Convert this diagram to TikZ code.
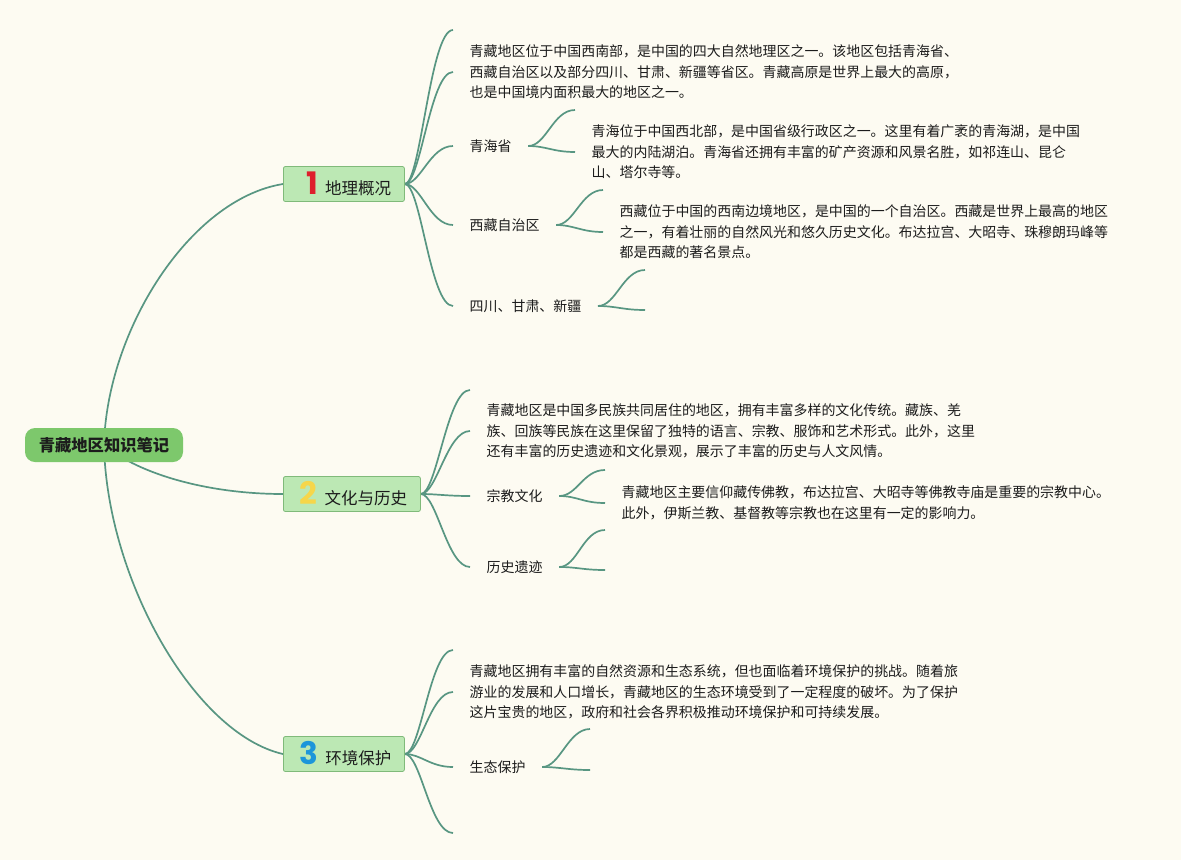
\documentclass[tikz,border=0pt]{standalone}
\usepackage{fontspec}
\setmainfont{Noto Sans CJK SC}
\newfontfamily\numfont{Poppins}
\definecolor{bgc}{RGB}{253,251,242}
\definecolor{edgec}{RGB}{88,150,130}
\definecolor{rootc}{RGB}{125,200,108}
\definecolor{brc}{RGB}{188,232,180}
\definecolor{brd}{RGB}{128,186,122}
\definecolor{txtc}{RGB}{28,28,28}
\definecolor{numa}{RGB}{222,30,44}
\definecolor{numb}{RGB}{246,214,74}
\definecolor{numc}{RGB}{28,150,218}
\pgfdeclarelayer{edges}
\pgfsetlayers{edges,main}
\newcommand\bnum[2]{{\numfont\bfseries\fontsize{31}{31}\selectfont\textcolor{#1}{#2}}\hspace{7pt}}
\tikzset{
  edge/.style={draw=edgec, line width=1.7pt},
  rootbox/.style={fill=rootc, rounded corners=10pt, minimum width=158pt, minimum height=34pt, inner sep=0pt, font=\fontsize{16.3}{18}\selectfont\bfseries, text=txtc},
  branchbox/.style={fill=brc, draw=brd, line width=0.8pt, rounded corners=2pt, minimum height=35pt, inner sep=0pt, anchor=west, font=\fontsize{16.5}{18}\selectfont, text=txtc},
  childtxt/.style={anchor=west, inner xsep=16.5pt, inner ysep=2pt, font=\fontsize{13.95}{20.5}\selectfont, text=txtc},
  para/.style={childtxt, align=left},
}
\begin{document}
\begin{tikzpicture}[x=1pt,y=-1pt]
\begin{pgfonlayer}{edges}
\fill[bgc] (0,0) rectangle (1181,860);
\end{pgfonlayer}
\useasboundingbox (0,0) rectangle (1181,860);

% root and branches
\node[rootbox] (root) at (104,445) {青藏地区知识笔记};
\node[branchbox, minimum width=121pt] (b1) at (283,184) {\hspace*{10pt}\bnum{numa}{1}地理概况};
\node[branchbox, minimum width=137pt] (b2) at (283,494) {\hspace*{3pt}\bnum{numb}{2}文化与历史};
\node[branchbox, minimum width=121pt] (b3) at (283,754) {\hspace*{3pt}\bnum{numc}{3}环境保护};

% branch 1 children
\coordinate (e11) at (453,30);
\node[para] (p11) at (453,72) {青藏地区位于中国西南部，是中国的四大自然地理区之一。该地区包括青海省、\\西藏自治区以及部分四川、甘肃、新疆等省区。青藏高原是世界上最大的高原，\\也是中国境内面积最大的地区之一。};
\node[childtxt] (c12) at (453,146) {青海省};
\node[childtxt] (c13) at (453,225) {西藏自治区};
\node[childtxt] (c14) at (453,306) {四川、甘肃、新疆};
\coordinate (e121) at (575,110);
\node[para] (p122) at (575,152) {青海位于中国西北部，是中国省级行政区之一。这里有着广袤的青海湖，是中国\\最大的内陆湖泊。青海省还拥有丰富的矿产资源和风景名胜，如祁连山、昆仑\\山、塔尔寺等。};
\coordinate (e131) at (603,190);
\node[para] (p132) at (603,232) {西藏位于中国的西南边境地区，是中国的一个自治区。西藏是世界上最高的地区\\之一，有着壮丽的自然风光和悠久历史文化。布达拉宫、大昭寺、珠穆朗玛峰等\\都是西藏的著名景点。};
\coordinate (e141) at (645,270);
\coordinate (e142) at (645,310);

% branch 2 children
\coordinate (e21) at (470,390);
\node[para] (p22) at (470,431) {青藏地区是中国多民族共同居住的地区，拥有丰富多样的文化传统。藏族、羌\\族、回族等民族在这里保留了独特的语言、宗教、服饰和艺术形式。此外，这里\\还有丰富的历史遗迹和文化景观，展示了丰富的历史与人文风情。};
\node[childtxt] (c23) at (470,496) {宗教文化};
\node[childtxt] (c24) at (470,567) {历史遗迹};
\coordinate (e231) at (605,470);
\node[para] (p232) at (605,503) {青藏地区主要信仰藏传佛教，布达拉宫、大昭寺等佛教寺庙是重要的宗教中心。\\此外，伊斯兰教、基督教等宗教也在这里有一定的影响力。};
\coordinate (e241) at (605,530);
\coordinate (e242) at (605,570);

% branch 3 children
\coordinate (e31) at (453,650);
\node[para] (p32) at (453,692) {青藏地区拥有丰富的自然资源和生态系统，但也面临着环境保护的挑战。随着旅\\游业的发展和人口增长，青藏地区的生态环境受到了一定程度的破坏。为了保护\\这片宝贵的地区，政府和社会各界积极推动环境保护和可持续发展。};
\node[childtxt] (c33) at (453,767) {生态保护};
\coordinate (e34) at (453,833);
\coordinate (e331) at (590,729);
\coordinate (e332) at (590,770);

\begin{pgfonlayer}{edges}
% root connectors
\draw[edge] (root.center) .. controls +(3,-115) and +(-93,15) .. (b1.west);
\draw[edge] (root.center) .. controls +(36,30) and +(-73,0) .. (b2.west);
\draw[edge] (root.center) .. controls +(3,135) and +(-88,-20) .. (b3.west);
% branch 1
\foreach \t in {e11,p11.west,c12.west,c13.west,c14.west}
  \draw[edge] (b1.east) .. controls +(16,0) and +(-23,0) .. (\t);
\foreach \t in {e121,p122.west}
  \draw[edge] (c12.east) .. controls +(18,0) and +(-22,0) .. (\t);
\foreach \t in {e131,p132.west}
  \draw[edge] (c13.east) .. controls +(18,0) and +(-22,0) .. (\t);
\foreach \t in {e141,e142}
  \draw[edge] (c14.east) .. controls +(18,0) and +(-22,0) .. (\t);
% branch 2
\foreach \t in {e21,p22.west,c23.west,c24.west}
  \draw[edge] (b2.east) .. controls +(16,0) and +(-23,0) .. (\t);
\foreach \t in {e231,p232.west}
  \draw[edge] (c23.east) .. controls +(18,0) and +(-22,0) .. (\t);
\foreach \t in {e241,e242}
  \draw[edge] (c24.east) .. controls +(18,0) and +(-22,0) .. (\t);
% branch 3
\foreach \t in {e31,p32.west,c33.west,e34}
  \draw[edge] (b3.east) .. controls +(16,0) and +(-23,0) .. (\t);
\foreach \t in {e331,e332}
  \draw[edge] (c33.east) .. controls +(18,0) and +(-22,0) .. (\t);
\end{pgfonlayer}
\end{tikzpicture}
\end{document}
